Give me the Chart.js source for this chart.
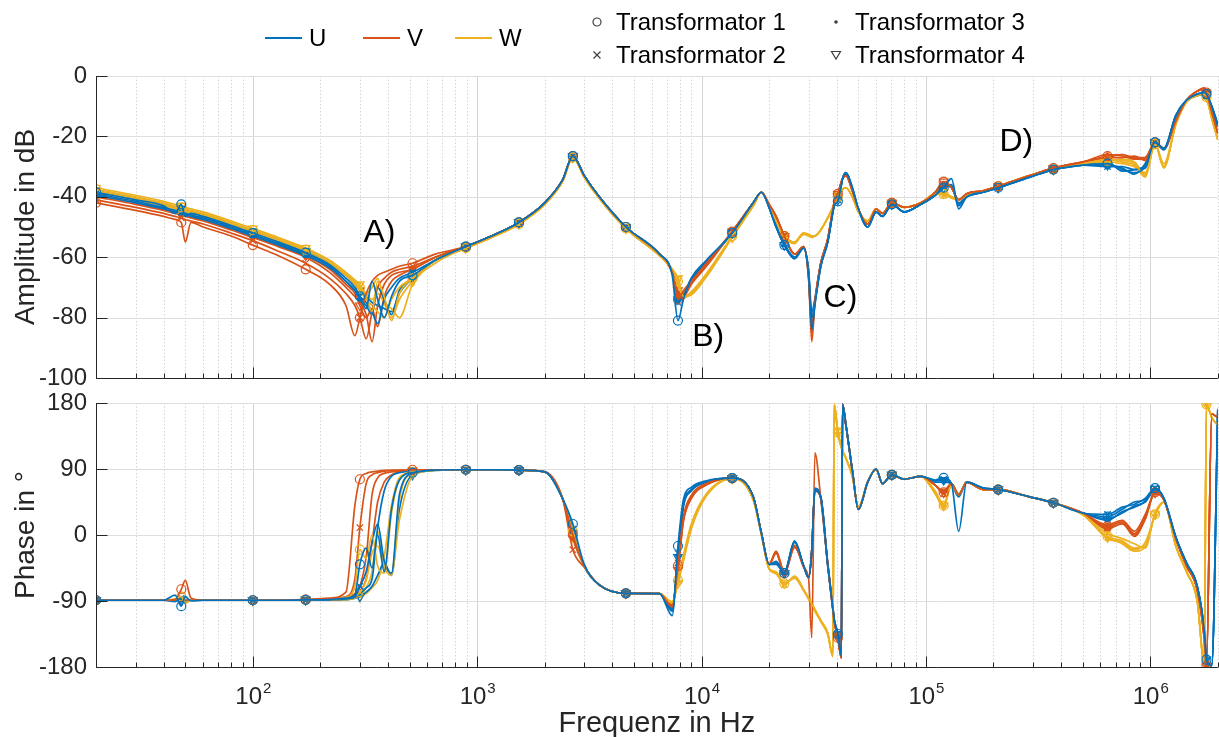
<!DOCTYPE html>
<html lang="de">
<head>
<meta charset="utf-8">
<title>Übertragungsfunktion Transformator</title>
<script src="https://cdn.jsdelivr.net/npm/chart.js@4.4.1/dist/chart.umd.min.js"></script>
<style>
  html, body { margin: 0; padding: 0; background: #fff; overflow: hidden; }
  body { position: relative; width: 1219px; height: 737px; font-family: "Liberation Sans", Arial, sans-serif; }
  canvas { position: absolute; left: 0; }
  #ampCanvas { top: 0; }
  #phaseCanvas { top: 390px; }
  .line-key { position: absolute; top: 37px; width: 37px; height: 2px; }
  .txt { position: absolute; font-size: 24px; line-height: 24px; color: #000; white-space: nowrap; }
  .mark { position: absolute; width: 14px; height: 14px; }
</style>
</head>
<body>
<canvas id="ampCanvas" width="1224" height="390"></canvas>
<canvas id="phaseCanvas" width="1224" height="347"></canvas>

<div class="line-key" style="left:265px;background:#0072BD"></div>
<div class="txt" style="left:309px;top:26px">U</div>
<div class="line-key" style="left:363px;background:#D95319"></div>
<div class="txt" style="left:407px;top:26px">V</div>
<div class="line-key" style="left:455px;background:#EDB120"></div>
<div class="txt" style="left:499px;top:26px">W</div>

<svg class="mark" style="left:590px;top:15px" viewBox="0 0 14 14"><circle cx="7" cy="7" r="4" fill="none" stroke="#404040" stroke-width="1.2"/></svg>
<div class="txt" style="left:616px;top:10px">Transformator 1</div>
<svg class="mark" style="left:590px;top:48px" viewBox="0 0 14 14"><path d="M3.5 3.5 L10.5 10.5 M10.5 3.5 L3.5 10.5" stroke="#404040" stroke-width="1.2"/></svg>
<div class="txt" style="left:616px;top:43px">Transformator 2</div>
<svg class="mark" style="left:829px;top:15px" viewBox="0 0 14 14"><circle cx="7" cy="7" r="1.8" fill="#404040"/></svg>
<div class="txt" style="left:855px;top:10px">Transformator 3</div>
<svg class="mark" style="left:829px;top:48px" viewBox="0 0 14 14"><polygon points="2.5,3.5 11.5,3.5 7,11" fill="none" stroke="#404040" stroke-width="1.2"/></svg>
<div class="txt" style="left:855px;top:43px">Transformator 4</div>

<script>
const FONT = '"Liberation Sans", Arial, sans-serif';

// Messfrequenzen in Hz (gemeinsam für alle Kurven)
const freq = [
  20, 30, 40, 45, 48, 50, 53, 60, 80, 100, 130, 172, 220,
  260, 285, 300, 320, 340, 360, 385, 415, 450, 515, 650,
  890, 1200, 1535, 2000, 2400, 2670, 3000, 3500, 4600, 6500,
  7400, 7850, 8300, 9000, 10500,
  13700, 17000, 18500, 20000, 21500, 23400, 26000, 28500, 30000, 31000,
  32000, 34000, 36500, 38500, 39000, 40500, 42000, 42500, 44000, 47000,
  50000, 55000, 60000, 64000, 70500, 80000, 95000, 110000, 120000, 130000,
  140000, 152000, 180000, 210000, 290000, 370000, 500000, 645000, 750000, 850000,
  950000, 1050000, 1150000, 1300000, 1450000, 1620000, 1740000, 1780000, 1880000, 2000000
];

// Frequenzen, an denen Marker gesetzt werden
const markerFreqs = [20, 48, 100, 172, 300, 515, 890, 1535, 2670, 4600, 7850, 13700,
  23400, 40500, 70500, 120000, 210000, 370000, 645000, 1050000, 1780000];

const ampTicks = [-100, -80, -60, -40, -20, 0];
const phaseTicks = [-180, -90, 0, 90, 180];

// Markierungen A) bis D) im Amplitudengang
const noteText = ['A)', 'B)', 'C)', 'D)'];
const noteFreq = [367, 10700, 41600, 253000];
const noteAmp = [-52, -86.5, -73.5, -22];

// Amplitude in dB, Phase U
const ampU1 = [
  -38.5, -41, -43, -45.5, -42.5, -46.5, -45.5, -46.5, -49.5, -52, -55, -58.5, -62.5,
  -67, -70, -73, -77, -68, -74, -80, -73, -68, -66, -61,
  -56.5, -52.5, -48.5, -42, -34.5, -26.5, -33, -40, -50, -59,
  -66, -81, -74, -67, -61,
  -52, -42, -38.5, -43.5, -50, -56, -60.5, -57, -66, -84,
  -76, -63, -55, -45, -43, -41.5, -36, -34, -32, -37,
  -44, -50, -45, -46.5, -42.5, -45, -42.5, -39.5, -37, -34,
  -44, -40, -38.5, -37, -33.5, -31, -29.5, -29, -31, -32,
  -30, -22, -24, -13, -8, -6, -5.5, -6, -10, -16
];
const ampU2 = [
  -39, -41.5, -43.5, -44.5, -45, -45.5, -46, -47, -50, -52.5, -55.5, -59, -63,
  -68, -71, -73, -75, -78, -82, -74, -70, -67, -65, -61,
  -56.5, -52.5, -48.5, -42, -34.5, -26.5, -33, -40, -50, -59,
  -65, -75, -73, -67.5, -61.5,
  -52, -42, -38.5, -43.5, -49.5, -55.5, -60, -57, -65, -80,
  -75, -63, -55, -45, -43, -41, -36, -34, -32.5, -37.5,
  -44, -50, -45, -46.5, -42.5, -45, -42.5, -39.5, -36.5, -36.5,
  -42, -40, -38.5, -37, -33.5, -31, -29.5, -30, -30, -31,
  -30.5, -22, -24.5, -13.5, -8, -6.5, -6, -6.5, -10.5, -17
];
const ampU3 = [
  -39.5, -42, -44, -45, -45.5, -46, -46.5, -47.5, -50.5, -53, -56, -59.5, -63.5,
  -68, -71, -74, -76, -79, -70, -74, -79, -71, -67, -61,
  -56.5, -52.5, -48.5, -42, -34.5, -26.5, -33, -40, -50, -59,
  -65, -74, -72.5, -67, -61.5,
  -52, -42, -38.5, -43.5, -50, -56, -60, -57, -64, -78,
  -74, -62, -55, -45, -43, -41, -36, -34, -32, -37,
  -44, -50, -45, -46.5, -42.5, -45, -42.5, -39.5, -37, -36,
  -42.5, -40, -38.5, -37, -33.5, -31, -29.5, -28.5, -31.5, -31,
  -29.5, -22.5, -24, -13, -8.5, -6, -5.5, -6, -10, -16
];
const ampU4 = [
  -38, -40.5, -42.5, -43.5, -44, -44.5, -45, -46, -49, -51.5, -54.5, -58, -62,
  -66, -69, -71, -73, -75, -76, -77, -78, -72, -67, -61,
  -56.5, -52.5, -48.5, -42, -34.5, -26.5, -33, -40, -50, -59,
  -65, -74, -72, -67.5, -62,
  -52, -42, -38.5, -43.5, -50, -56, -60.5, -57, -65, -82,
  -75, -63, -55, -45, -43, -41, -36, -34, -32, -37,
  -44, -50, -45, -46.5, -42.5, -45, -42.5, -39.5, -37, -36.5,
  -43, -40, -38.5, -37, -33.5, -31, -29.5, -29.5, -30.5, -32.5,
  -29, -22, -24, -13, -8, -6, -5.5, -6, -10, -16
];

// Amplitude in dB, Phase V
const ampV1 = [
  -42, -44.5, -46.5, -47.5, -48.5, -55, -48.5, -50, -53, -56, -59.5, -64, -69,
  -76, -86, -80, -72, -68, -66, -65, -64, -63, -62, -59,
  -56.5, -52.5, -48.5, -42, -34.5, -26.5, -33, -40, -50, -59,
  -65, -74, -71, -68, -62,
  -51.5, -42, -38.5, -42.5, -46.5, -53, -59, -56.5, -67, -88,
  -75, -62, -54, -44, -42, -39, -35, -34, -33, -38,
  -44, -49, -44, -45.5, -42, -43.5, -42, -38.5, -35, -37,
  -41, -39, -38, -36.5, -33, -30.5, -28.5, -26.5, -26, -27,
  -27, -22, -24, -15, -8, -5, -4, -5.5, -12, -19
];
const ampV2 = [
  -41, -43.5, -45.5, -46.5, -47, -47.5, -48, -49, -52, -54.5, -58, -62, -67,
  -72, -76, -80, -87, -78, -70, -67, -65, -64, -63, -60,
  -56.5, -52.5, -48.5, -42, -34.5, -26.5, -33, -40, -50, -59,
  -65, -73, -72, -68.5, -62.5,
  -51.5, -42, -38.5, -42.5, -47, -53, -59, -56.5, -66, -85,
  -75, -62, -54, -44, -42, -39.5, -35, -34, -33, -38,
  -44, -49, -44, -45.5, -42, -43.5, -42, -38.5, -36, -37,
  -41, -39, -38, -36.5, -33, -30.5, -28.5, -27, -27, -26.5,
  -28, -22, -24, -15, -8, -5, -4.5, -5.5, -12, -19
];
const ampV3 = [
  -40, -42.5, -44.5, -45.5, -46, -46.5, -47, -48, -51, -53.5, -56.5, -60, -65,
  -70, -73, -75, -79, -88, -76, -69, -66, -65, -64, -60,
  -56.5, -52.5, -48.5, -42, -34.5, -26.5, -33, -40, -50, -59,
  -65, -72, -73, -69, -63,
  -51.5, -42, -38.5, -42.5, -46.5, -53, -59, -56.5, -66, -82,
  -74, -62, -54, -44, -42, -39, -35, -34, -33, -38,
  -44, -49, -44, -45.5, -42, -43.5, -42, -38.5, -35.5, -37,
  -41, -39, -38, -36.5, -33, -30.5, -28.5, -26, -26.5, -27.5,
  -27, -22, -24, -15, -8, -5, -4, -5.5, -12, -19
];
const ampV4 = [
  -39.5, -42, -44, -45, -45.5, -46, -46.5, -47.5, -50.5, -53, -56, -59.5, -64,
  -69, -72, -76, -80, -77, -83, -73, -68, -66, -64, -60,
  -56.5, -52.5, -48.5, -42, -34.5, -26.5, -33, -40, -50, -59,
  -65, -71, -72, -68.5, -63,
  -51.5, -42, -38.5, -42.5, -46.5, -53, -59, -56.5, -67, -84,
  -75, -62, -54, -44, -42, -39, -35, -34, -33, -38,
  -44, -49, -44, -45.5, -42, -43.5, -42, -38.5, -35, -37,
  -41, -39, -38, -36.5, -33, -30.5, -28.5, -27, -26, -27.5,
  -27.5, -22, -24, -15, -8, -5, -4, -5.5, -12, -19
];

// Amplitude in dB, Phase W
const ampW1 = [
  -37.5, -40, -42, -43, -43.5, -44, -44.5, -45.5, -48.5, -51, -54, -57.5, -61.5,
  -66, -68.5, -70, -73, -78, -68, -73, -81, -72, -67, -61,
  -57, -53, -49, -42.5, -35, -27, -33.5, -40.5, -50.5, -59.5,
  -64, -68, -73, -72, -66,
  -53, -43, -38.5, -43, -48, -53, -55, -52, -52.5, -53,
  -53, -51, -47, -43.5, -42.5, -40, -38, -37.5, -37, -40,
  -45, -48, -44, -45.5, -42, -43.5, -42, -39, -39, -40,
  -41, -39.5, -38, -36.5, -33, -31, -29, -28, -28, -29,
  -33, -22.5, -30, -16, -8.5, -6.5, -6, -7, -14, -21
];
const ampW2 = [
  -38.5, -41, -43, -44, -44.5, -45, -45.5, -46.5, -49.5, -52, -55, -58.5, -62.5,
  -66, -69, -71, -74, -76, -78, -80, -74, -70, -67, -61,
  -57, -53, -49, -42.5, -35, -27, -33.5, -40.5, -50.5, -59.5,
  -64, -67, -73.5, -72, -66.5,
  -53, -43, -38.5, -43, -48, -53.5, -55.5, -52, -52.5, -53.5,
  -53, -51, -47, -43.5, -42.5, -40.5, -38, -37.5, -37, -40,
  -45, -48, -44, -45.5, -42, -43.5, -42, -39, -39.5, -40,
  -41, -39.5, -38, -36.5, -33, -31, -29, -28.5, -29, -30,
  -32, -22.5, -29, -16, -8.5, -6.5, -6, -7, -14, -21
];
const ampW3 = [
  -38, -40.5, -42.5, -43.5, -44, -44.5, -45, -46, -49, -51.5, -54.5, -58, -62,
  -65.5, -68, -70, -72, -74, -72, -75, -77, -80, -69, -62,
  -57, -53, -49, -42.5, -35, -27, -33.5, -40.5, -50.5, -59.5,
  -64, -69, -73, -71.5, -65.5,
  -53, -43, -38.5, -43, -48, -53, -55, -52.5, -52.5, -53,
  -53, -51, -47, -43.5, -42.5, -40, -38, -37.5, -37, -40,
  -45, -48, -44, -45.5, -42, -43.5, -42, -39, -39, -40.5,
  -41, -39.5, -38, -36.5, -33, -31, -29, -27.5, -28.5, -29.5,
  -33.5, -22.5, -30.5, -16, -8.5, -6.5, -6, -7, -14, -21
];
const ampW4 = [
  -37, -39.5, -41.5, -42.5, -43, -43.5, -44, -45, -48, -50.5, -53.5, -57, -61,
  -65, -67.5, -69, -72, -70, -67, -75, -80, -74, -68, -61,
  -57, -53, -49, -42.5, -35, -27, -33.5, -40.5, -50.5, -59.5,
  -64, -67, -73, -72.5, -66.5,
  -53.5, -43, -38.5, -43, -48, -53, -55, -52, -53, -53,
  -53, -51, -47, -43.5, -42.5, -40, -38, -37.5, -37, -40,
  -45, -48, -44, -45.5, -42, -43.5, -42, -39, -38.5, -40,
  -41, -39.5, -38, -36.5, -33, -31, -29, -28, -27.5, -28.5,
  -32.5, -22.5, -30, -16, -8.5, -6.5, -6, -7, -14, -21
];

// Phase in Grad, Phase U
const phU1 = [
  -89, -89, -89, -82, -97, -84, -90, -89, -89, -89, -89, -88.5, -88,
  -86, -82, -40, -18, -45, 0, -50, 35, 75, 85, 88.5,
  89, 89, 88.5, 86, 50, 15, -40, -68, -79.5, -80,
  -110, -15, 48, 65, 74,
  77.5, 52, 2, -40, -38, -52, -9, -42, -58, -22,
  62, 52, -40, -100, -115, -135, -165, 178, 150, 88,
  35, 72, 90, 70, 82, 76, 80, 75, 78, 70,
  5, 72, 64, 62, 52, 44, 30, 25, 35, 45,
  48, 64, 50, -3, -38, -70, -130, -170, -178, 170
];
const phU2 = [
  -89, -89, -89, -91, -86, -92, -89, -89, -89, -89, -89, -88.5, -88,
  -87, -84, -70, -50, -10, 15, -35, -52, 55, 84, 88.5,
  89, 89, 88.5, 86, 50, 8, -42, -68, -79.5, -80,
  -104, -25, 42, 62, 73,
  77.5, 52, 2, -40, -36, -50, -8, -42, -58, -20,
  64, 50, -42, -102, -116, -136, -166, 178, 150, 88,
  35, 72, 90, 70, 82, 76, 80, 74, 76, 70,
  52, 72, 64, 62, 52, 44, 30, 28, 38, 42,
  50, 64, 50, -3, -38, -70, -132, -172, -178, 172
];
const phU3 = [
  -89, -89, -89, -89, -89, -89, -89, -89, -89, -89, -89, -88.5, -88,
  -87, -85, -80, -72, -60, 10, 60, 80, 85, 87, 88.5,
  89, 89, 88.5, 86, 50, 5, -42, -68, -79.5, -80,
  -102, -28, 40, 61, 73,
  77.5, 52, 2, -40, -40, -52, -10, -42, -58, -24,
  60, 52, -38, -98, -114, -134, -164, 178, 150, 88,
  35, 72, 90, 70, 82, 76, 80, 72, 72, 70,
  56, 72, 64, 62, 52, 44, 30, 22, 30, 40,
  45, 62, 50, -3, -38, -70, -128, -168, -176, 168
];
const phU4 = [
  -89, -89, -89, -89, -89, -89, -89, -89, -89, -89, -89, -88.5, -88,
  -88, -86, -84, -78, -70, -55, -38, -55, 35, 82, 88,
  89, 89, 88.5, 86, 50, 3, -42, -68, -79.5, -80,
  -100, -30, 38, 60, 72,
  77.5, 52, 2, -40, -38, -52, -9, -42, -58, -22,
  62, 52, -40, -100, -115, -135, -165, 178, 150, 88,
  35, 72, 90, 70, 82, 76, 80, 74, 75, 70,
  55, 72, 64, 62, 52, 44, 30, 20, 32, 38,
  46, 63, 50, -3, -38, -70, -130, -170, -178, 170
];

// Phase in Grad, Phase V
const phV1 = [
  -89, -89, -89, -88, -74, -62, -86, -89, -89, -89, -89, -88, -86,
  -78, 40, 76, 84, 86, 87, 88, 88, 88.5, 89, 89,
  89, 89, 88.5, 86, 50, 0, -42, -68, -79.5, -80,
  -97, -42, 22, 52, 70,
  77.5, 52, 2, -40, -23, -52, -16, -42, -58, -22,
  62, 50, -40, -102, -118, -140, -168, 178, 150, 88,
  35, 72, 90, 70, 82, 76, 80, 68, 58, 70,
  55, 72, 62, 62, 52, 44, 30, 12, 18, 2,
  25, 58, 48, -5, -42, -75, -140, -178, 165, 160
];
const phV2 = [
  -89, -89, -89, -89, -89, -89, -89, -89, -89, -89, -89, -88, -87,
  -84, -60, 10, 70, 82, 85, 87, 88, 88, 88.5, 89,
  89, 89, 88.5, 86, 50, -20, -44, -68, -79.5, -80,
  -98, -38, 25, 54, 70,
  77.5, 52, 2, -40, -22, -50, -14, -44, -60, -140,
  112, 50, -38, -100, -116, -138, -166, 178, 150, 88,
  35, 72, 90, 70, 82, 76, 80, 68, 56, 70,
  55, 72, 62, 62, 52, 44, 30, 10, 15, 0,
  22, 58, 48, -5, -42, -75, -142, -178, 165, 160
];
const phV3 = [
  -89, -89, -89, -89, -89, -89, -89, -89, -89, -89, -89, -88.5, -88,
  -86, -80, -70, -30, 55, 78, 84, 86, 87, 88, 89,
  89, 89, 88.5, 86, 50, -5, -42, -68, -79.5, -80,
  -96, -45, 20, 50, 69,
  77.5, 52, 2, -40, -25, -53, -17, -42, -58, -20,
  60, 50, -40, -102, -118, -140, -168, 178, 150, 88,
  35, 72, 90, 70, 82, 76, 80, 68, 60, 70,
  55, 72, 62, 62, 52, 44, 30, 14, 20, 5,
  28, 57, 48, -5, -42, -75, -138, -178, 165, 160
];
const phV4 = [
  -89, -89, -89, -89, -89, -89, -89, -89, -89, -89, -89, -88.5, -88,
  -86, -82, -78, -60, -10, 45, 72, 82, 86, 87.5, 89,
  89, 89, 88.5, 86, 50, 0, -42, -68, -79.5, -80,
  -95, -48, 18, 50, 68,
  77.5, 52, 2, -40, -24, -52, -16, -42, -58, -22,
  62, 50, -40, -102, -118, -140, -168, 178, 150, 88,
  35, 72, 90, 70, 82, 76, 80, 68, 58, 70,
  55, 72, 62, 62, 52, 44, 30, 8, 16, -2,
  22, 58, 48, -5, -42, -75, -140, -178, 165, 160
];

// Phase in Grad, Phase W
const phW1 = [
  -89, -89, -89, -87, -84, -93, -89, -89, -89, -89, -89, -88.5, -87,
  -85, -70, -20, -32, 0, -42, -52, 30, 75, 86, 88.5,
  89, 89, 88.5, 86, 50, 5, -42, -68, -79.5, -80,
  -92, -62, -32, 12, 55,
  77, 48, 0, -46, -52, -66, -58, -75, -86, -94,
  -102, -117, -134, -165, 178, 140, 120, 115, 105, 80,
  38, 72, 90, 70, 82, 76, 80, 58, 40, 68,
  55, 72, 62, 62, 52, 44, 28, -2, -8, -18,
  -14, 28, 45, -15, -50, -90, -175, 178, 160, 150
];
const phW2 = [
  -89, -89, -89, -89, -89, -89, -89, -89, -89, -89, -89, -88.5, -88,
  -87, -84, -78, -62, -25, -15, -45, -55, 48, 84, 88.5,
  89, 89, 88.5, 86, 50, 2, -42, -68, -79.5, -80,
  -92, -60, -28, 15, 56,
  77, 48, 0, -46, -50, -68, -56, -74, -88, -96,
  -104, -118, -136, -166, 178, 142, 121, 115, 104, 80,
  38, 72, 90, 70, 82, 76, 80, 60, 42, 68,
  55, 72, 62, 62, 52, 44, 28, 2, -5, -12,
  -18, 30, 45, -15, -50, -90, -176, 178, 160, 150
];
const phW3 = [
  -89, -89, -89, -89, -89, -89, -89, -89, -89, -89, -89, -88.5, -88,
  -88, -86, -82, -72, -50, 5, -40, -52, 20, 80, 88,
  89, 89, 88.5, 86, 50, 0, -42, -68, -79.5, -80,
  -93, -64, -34, 10, 54,
  77, 48, 0, -46, -53, -66, -59, -75, -86, -93,
  -101, -116, -133, -164, 178, 138, 119, 114, 105, 80,
  38, 72, 90, 70, 82, 76, 80, 56, 38, 68,
  55, 72, 62, 62, 52, 44, 28, -5, -10, -20,
  -10, 26, 45, -15, -50, -90, -175, 178, 160, 150
];
const phW4 = [
  -89, -89, -89, -89, -89, -89, -89, -89, -89, -89, -89, -88.5, -88,
  -88, -86, -84, -80, -72, -62, -30, 40, 78, 86, 88.5,
  89, 89, 88.5, 86, 50, -3, -42, -68, -79.5, -80,
  -91, -66, -36, 8, 53,
  77, 48, 0, -46, -52, -66, -58, -76, -86, -94,
  -102, -117, -134, -165, 178, 140, 120, 115, 105, 80,
  38, 72, 90, 70, 82, 76, 80, 58, 40, 68,
  55, 72, 62, 62, 52, 44, 28, -3, -12, -22,
  -16, 28, 45, -15, -50, -90, -175, 178, 160, 150
];

const colors = { U: '#0072BD', V: '#D95319', W: '#EDB120' };
const ampSeries = { U: [ampU1, ampU2, ampU3, ampU4], V: [ampV1, ampV2, ampV3, ampV4], W: [ampW1, ampW2, ampW3, ampW4] };
const phaseSeries = { U: [phU1, phU2, phU3, phU4], V: [phV1, phV2, phV3, phV4], W: [phW1, phW2, phW3, phW4] };

// one marker per transformer: o, x, ., triangle down
const markerStyles = [
  { pointStyle: 'circle', radius: 4.5, filled: false, rotation: 0 },
  { pointStyle: 'crossRot', radius: 4.5, filled: false, rotation: 0 },
  { pointStyle: 'circle', radius: 1.6, filled: true, rotation: 0 },
  { pointStyle: 'triangle', radius: 5, filled: false, rotation: 180 }
];

function buildDatasets(seriesByPhase) {
  const sets = [];
  for (let t = 0; t < 4; t++) {
    for (const p of ['U', 'V', 'W']) {
      const m = markerStyles[t];
      const c = colors[p];
      sets.push({
        label: p + (t + 1),
        data: freq.map((f, i) => ({ x: f, y: seriesByPhase[p][t][i] })),
        borderColor: c,
        borderWidth: 1.7,
        cubicInterpolationMode: 'monotone',
        pointStyle: m.pointStyle,
        pointRotation: m.rotation,
        pointRadius: ctx => markerFreqs.includes(freq[ctx.dataIndex]) ? m.radius : 0,
        pointHoverRadius: 0,
        pointBorderColor: c,
        pointBorderWidth: 1.2,
        pointBackgroundColor: m.filled ? c : 'rgba(0,0,0,0)'
      });
    }
  }
  return sets;
}

const isDecade = v => Math.abs(Math.log10(v) - Math.round(Math.log10(v))) < 1e-9;

function logTicks(min, max) {
  const out = [];
  for (let e = 1; e <= 6; e++) {
    for (let m = 1; m <= 9; m++) {
      const v = m * Math.pow(10, e);
      if (v >= min && v <= max) out.push(v);
    }
  }
  return out;
}

// grid behind the curves, axis lines and inward ticks on top (MATLAB look)
const axesPlugin = {
  id: 'axesPlugin',
  beforeDatasetsDraw(chart) {
    const { ctx, chartArea: a, scales: { x, y } } = chart;
    ctx.save();
    ctx.lineWidth = 1;
    x.ticks.forEach(t => {
      const px = Math.round(x.getPixelForValue(t.value)) + 0.5;
      const major = isDecade(t.value);
      ctx.strokeStyle = major ? '#d4d4d4' : '#d6d6d6';
      ctx.setLineDash(major ? [] : [1.5, 2]);
      ctx.beginPath(); ctx.moveTo(px, a.top); ctx.lineTo(px, a.bottom); ctx.stroke();
    });
    ctx.setLineDash([]);
    ctx.strokeStyle = '#dedede';
    y.ticks.forEach(t => {
      const py = Math.round(y.getPixelForValue(t.value)) + 0.5;
      ctx.beginPath(); ctx.moveTo(a.left, py); ctx.lineTo(a.right, py); ctx.stroke();
    });
    ctx.restore();
  },
  afterDatasetsDraw(chart) {
    const { ctx, chartArea: a, scales: { x, y } } = chart;
    const left = Math.round(a.left) + 0.5;
    const bottom = Math.round(a.bottom) + 0.5;
    ctx.save();
    ctx.strokeStyle = '#262626';
    ctx.lineWidth = 1;
    ctx.beginPath();
    ctx.moveTo(left, a.top); ctx.lineTo(left, bottom); ctx.lineTo(a.right, bottom);
    x.ticks.forEach(t => {
      const px = Math.round(x.getPixelForValue(t.value)) + 0.5;
      ctx.moveTo(px, bottom); ctx.lineTo(px, bottom - (isDecade(t.value) ? 11 : 5));
    });
    y.ticks.forEach(t => {
      const py = Math.round(y.getPixelForValue(t.value)) + 0.5;
      ctx.moveTo(left, py); ctx.lineTo(left + 11, py);
    });
    ctx.stroke();
    ctx.restore();
  }
};

// 10^n labels with a raised exponent
const decadeLabels = {
  id: 'decadeLabels',
  afterDraw(chart) {
    const { ctx, scales: { x } } = chart;
    const baseY = x.top + 37;
    ctx.save();
    ctx.fillStyle = '#262626';
    ctx.textAlign = 'left';
    ctx.textBaseline = 'alphabetic';
    x.ticks.filter(t => isDecade(t.value)).forEach(t => {
      const exp = String(Math.round(Math.log10(t.value)));
      ctx.font = '24px ' + FONT;
      const w1 = ctx.measureText('10').width;
      ctx.font = '15px ' + FONT;
      const w2 = ctx.measureText(exp).width;
      const start = x.getPixelForValue(t.value) - (w1 + w2) / 2;
      ctx.font = '24px ' + FONT;
      ctx.fillText('10', start, baseY);
      ctx.font = '15px ' + FONT;
      ctx.fillText(exp, start + w1 + 1, baseY - 11);
    });
    ctx.restore();
  }
};

const notesPlugin = {
  id: 'notesPlugin',
  afterDatasetsDraw(chart) {
    const { ctx, scales: { x, y } } = chart;
    ctx.save();
    ctx.font = '32px ' + FONT;
    ctx.fillStyle = '#000';
    ctx.textAlign = 'center';
    ctx.textBaseline = 'middle';
    noteText.forEach((txt, i) => {
      ctx.fillText(txt, x.getPixelForValue(noteFreq[i]), y.getPixelForValue(noteAmp[i]));
    });
    ctx.restore();
  }
};

function xScale(withTitle) {
  return {
    type: 'logarithmic',
    min: 20,
    max: 2e6,
    afterBuildTicks: s => { s.ticks = logTicks(20, 2e6).map(v => ({ value: v })); },
    ticks: { display: false, autoSkip: false },
    grid: { display: false, drawTicks: false },
    border: { display: false },
    title: withTitle
      ? { display: true, text: 'Frequenz in Hz', color: '#262626', font: { size: 29, family: FONT, lineHeight: 0.9 }, padding: { top: 0, bottom: 0 } }
      : { display: false },
    afterFit: s => { s.height = withTitle ? 70 : 12; }
  };
}

function yScale(min, max, tickValues, title) {
  return {
    min: min,
    max: max,
    afterBuildTicks: s => { s.ticks = tickValues.map(v => ({ value: v })); },
    // tiny line height keeps the labels from adding extra padding to the plot area
    ticks: { color: '#262626', font: { size: 24, family: FONT, lineHeight: 0.1 }, padding: 9 },
    grid: { display: false, drawTicks: false },
    border: { display: false },
    title: { display: true, text: title, color: '#262626', font: { size: 28, family: FONT }, padding: { top: 9, bottom: 0 } },
    afterFit: s => { s.width = 96; }
  };
}

Chart.defaults.font.family = FONT;

new Chart(document.getElementById('ampCanvas'), {
  type: 'line',
  data: { datasets: buildDatasets(ampSeries) },
  options: {
    responsive: false,
    animation: false,
    events: [],
    layout: { padding: { top: 76, left: 0, right: 1, bottom: 0 } },
    scales: { x: xScale(false), y: yScale(-100, 0, ampTicks, 'Amplitude in dB') },
    plugins: { legend: { display: false }, tooltip: { enabled: false } }
  },
  plugins: [axesPlugin, notesPlugin]
});

new Chart(document.getElementById('phaseCanvas'), {
  type: 'line',
  data: { datasets: buildDatasets(phaseSeries) },
  options: {
    responsive: false,
    animation: false,
    events: [],
    layout: { padding: { top: 13, left: 0, right: 1, bottom: 0 } },
    scales: { x: xScale(true), y: yScale(-180, 180, phaseTicks, 'Phase in °') },
    plugins: { legend: { display: false }, tooltip: { enabled: false } }
  },
  plugins: [axesPlugin, decadeLabels]
});
</script>
</body>
</html>
